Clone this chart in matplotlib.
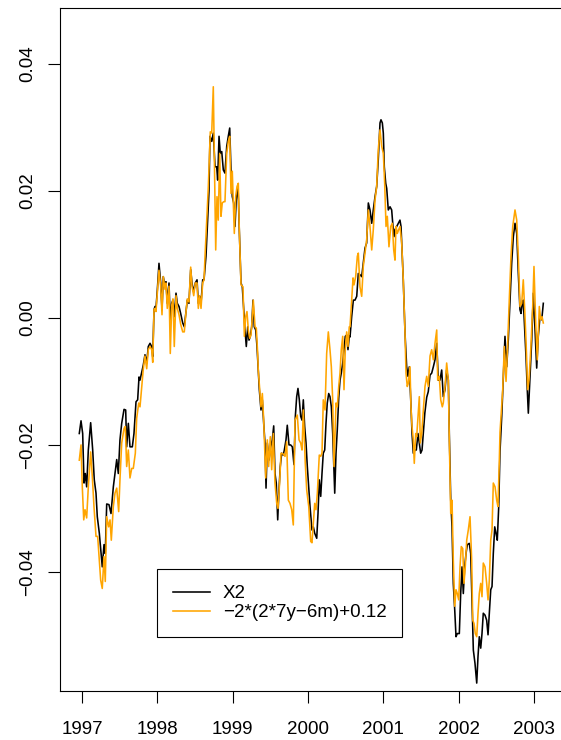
import matplotlib
matplotlib.use("Agg")
import matplotlib.pyplot as plt

# X2 の系列（年, 値）
x2_years = [
    1996.964, 1996.987, 1997.009, 1997.027, 1997.044, 1997.062, 1997.084, 1997.115,
    1997.142, 1997.163, 1997.186, 1997.203, 1997.230, 1997.269, 1997.292, 1997.309,
    1997.328, 1997.358, 1997.385, 1997.416, 1997.438, 1997.461, 1997.482, 1997.504,
    1997.527, 1997.558, 1997.580, 1997.593, 1997.615, 1997.637, 1997.668, 1997.690,
    1997.717, 1997.739, 1997.757, 1997.770, 1997.814, 1997.836, 1997.859, 1997.880,
    1997.903, 1997.925, 1997.939, 1997.956, 1997.969, 1997.982, 1998.000, 1998.022,
    1998.045, 1998.062, 1998.079, 1998.102, 1998.115, 1998.132, 1998.155, 1998.172,
    1998.191, 1998.208, 1998.225, 1998.248, 1998.265, 1998.288, 1998.310, 1998.337,
    1998.358, 1998.381, 1998.398, 1998.420, 1998.443, 1998.460, 1998.483, 1998.504,
    1998.527, 1998.544, 1998.562, 1998.580, 1998.602, 1998.620, 1998.646, 1998.667,
    1998.686, 1998.699, 1998.722, 1998.743, 1998.766, 1998.788, 1998.801, 1998.819,
    1998.836, 1998.855, 1998.876, 1998.898, 1998.921, 1998.942, 1998.961, 1998.978,
    1998.995, 1999.014, 1999.031, 1999.048, 1999.071, 1999.088, 1999.111, 1999.128,
    1999.147, 1999.164, 1999.181, 1999.200, 1999.217, 1999.234, 1999.253, 1999.270,
    1999.287, 1999.306, 1999.323, 1999.340, 1999.354, 1999.376, 1999.394, 1999.412,
    1999.429, 1999.443, 1999.460, 1999.482, 1999.505, 1999.526, 1999.545, 1999.562,
    1999.579, 1999.598, 1999.615, 1999.632, 1999.651, 1999.672, 1999.686, 1999.708,
    1999.725, 1999.748, 1999.770, 1999.792, 1999.814, 1999.832, 1999.850, 1999.867,
    1999.885, 1999.903, 1999.921, 1999.938, 1999.956, 1999.974, 1999.991, 2000.010,
    2000.027, 2000.053, 2000.071, 2000.089, 2000.116, 2000.133, 2000.150, 2000.169,
    2000.186, 2000.203, 2000.222, 2000.239, 2000.256, 2000.275, 2000.292, 2000.310,
    2000.328, 2000.345, 2000.355, 2000.372, 2000.389, 2000.408, 2000.425, 2000.442,
    2000.461, 2000.478, 2000.495, 2000.514, 2000.531, 2000.548, 2000.558, 2000.580,
    2000.602, 2000.624, 2000.647, 2000.668, 2000.690, 2000.713, 2000.734, 2000.757,
    2000.779, 2000.801, 2000.823, 2000.846, 2000.867, 2000.890, 2000.912, 2000.933,
    2000.956, 2000.969, 2000.987, 2001.000, 2001.013, 2001.032, 2001.045, 2001.066,
    2001.089, 2001.111, 2001.125, 2001.142, 2001.155, 2001.178, 2001.199, 2001.221,
    2001.235, 2001.252, 2001.265, 2001.288, 2001.310, 2001.328, 2001.345, 2001.364,
    2001.381, 2001.398, 2001.421, 2001.438, 2001.460, 2001.478, 2001.496, 2001.514,
    2001.531, 2001.551, 2001.576, 2001.597, 2001.620, 2001.642, 2001.664, 2001.686,
    2001.709, 2001.730, 2001.752, 2001.775, 2001.796, 2001.819, 2001.841, 2001.863,
    2001.876, 2001.895, 2001.912, 2001.929, 2001.948, 2001.965, 2001.982, 2002.009,
    2002.027, 2002.045, 2002.062, 2002.080, 2002.098, 2002.115, 2002.141, 2002.160,
    2002.177, 2002.195, 2002.217, 2002.240, 2002.257, 2002.274, 2002.293, 2002.310,
    2002.327, 2002.350, 2002.372, 2002.390, 2002.407, 2002.426, 2002.443, 2002.460,
    2002.479, 2002.496, 2002.513, 2002.532, 2002.549, 2002.572, 2002.593, 2002.615,
    2002.638, 2002.659, 2002.682, 2002.704, 2002.726, 2002.748, 2002.771, 2002.792,
    2002.814, 2002.828, 2002.845, 2002.858, 2002.872, 2002.894, 2002.911, 2002.925,
    2002.947, 2002.970, 2002.991, 2003.014, 2003.036, 2003.057, 2003.080, 2003.103,
    2003.124,
]
x2_values = [
    -0.0182, -0.0162, -0.0182, -0.0260, -0.0245, -0.0266, -0.0208, -0.0165,
    -0.0208, -0.0255, -0.0276, -0.0313, -0.0339, -0.0392, -0.0357, -0.0371,
    -0.0293, -0.0294, -0.0308, -0.0266, -0.0245, -0.0223, -0.0245, -0.0192,
    -0.0166, -0.0144, -0.0145, -0.0203, -0.0166, -0.0203, -0.0203, -0.0182,
    -0.0132, -0.0129, -0.0093, -0.0098, -0.0074, -0.0058, -0.0071, -0.0045,
    -0.0040, -0.0045, -0.0061, 0.0013, 0.0018, 0.0015, 0.0044, 0.0086,
    0.0055, 0.0013, 0.0065, 0.0049, 0.0057, 0.0023, 0.0055, -0.0008,
    0.0023, 0.0028, 0.0002, 0.0039, 0.0023, 0.0018, 0.0007, -0.0008,
    -0.0014, 0.0010, 0.0028, 0.0023, 0.0076, 0.0055, 0.0041, 0.0055,
    0.0060, 0.0023, 0.0034, 0.0023, 0.0060, 0.0060, 0.0097, 0.0150,
    0.0200, 0.0286, 0.0278, 0.0291, 0.0238, 0.0238, 0.0217, 0.0286,
    0.0259, 0.0262, 0.0233, 0.0228, 0.0270, 0.0286, 0.0299, 0.0233,
    0.0191, 0.0181, 0.0144, 0.0186, 0.0209, 0.0139, 0.0055, 0.0049,
    0.0013, -0.0019, -0.0045, -0.0014, -0.0035, -0.0029, -0.0014, 0.0028,
    -0.0014, -0.0019, -0.0045, -0.0082, -0.0113, -0.0145, -0.0129, -0.0166,
    -0.0197, -0.0268, -0.0197, -0.0224, -0.0203, -0.0192, -0.0170, -0.0245,
    -0.0260, -0.0318, -0.0271, -0.0234, -0.0213, -0.0216, -0.0208, -0.0192,
    -0.0169, -0.0200, -0.0200, -0.0203, -0.0231, -0.0155, -0.0124, -0.0111,
    -0.0129, -0.0155, -0.0161, -0.0129, -0.0171, -0.0197, -0.0234, -0.0266,
    -0.0297, -0.0334, -0.0329, -0.0339, -0.0347, -0.0308, -0.0255, -0.0281,
    -0.0245, -0.0213, -0.0208, -0.0166, -0.0134, -0.0119, -0.0124, -0.0140,
    -0.0182, -0.0239, -0.0276, -0.0213, -0.0176, -0.0126, -0.0098, -0.0087,
    -0.0071, -0.0050, -0.0029, -0.0027, -0.0050, -0.0029, -0.0030, 0.0002,
    0.0028, 0.0028, 0.0034, 0.0070, 0.0068, 0.0065, 0.0086, 0.0110,
    0.0118, 0.0181, 0.0170, 0.0149, 0.0170, 0.0191, 0.0207, 0.0249,
    0.0307, 0.0312, 0.0307, 0.0291, 0.0238, 0.0212, 0.0204, 0.0170,
    0.0175, 0.0170, 0.0149, 0.0128, 0.0139, 0.0144, 0.0149, 0.0154,
    0.0144, 0.0097, 0.0060, -0.0024, -0.0077, -0.0092, -0.0077, -0.0129,
    -0.0182, -0.0213, -0.0208, -0.0208, -0.0182, -0.0197, -0.0213, -0.0208,
    -0.0182, -0.0150, -0.0125, -0.0116, -0.0090, -0.0087, -0.0077, -0.0066,
    -0.0040, -0.0098, -0.0098, -0.0082, -0.0124, -0.0113, -0.0082, -0.0098,
    -0.0182, -0.0287, -0.0329, -0.0418, -0.0460, -0.0502, -0.0497, -0.0497,
    -0.0434, -0.0392, -0.0434, -0.0392, -0.0371, -0.0357, -0.0355, -0.0371,
    -0.0444, -0.0523, -0.0544, -0.0575, -0.0533, -0.0502, -0.0520, -0.0497,
    -0.0465, -0.0468, -0.0476, -0.0499, -0.0465, -0.0428, -0.0423, -0.0371,
    -0.0329, -0.0339, -0.0350, -0.0297, -0.0210, -0.0155, -0.0092, -0.0029,
    -0.0077, -0.0035, 0.0028, 0.0086, 0.0128, 0.0149, 0.0133, 0.0070,
    0.0013, 0.0007, 0.0023, 0.0028, -0.0008, -0.0061, -0.0113, -0.0150,
    -0.0092, -0.0035, 0.0039, -0.0019, -0.0079, -0.0029, 0.0002, -0.0003,
    0.0023,
]

# -2*(2*7y-6m)+0.12 の系列（年, 値）
fit_years = [
    1996.964, 1996.987, 1997.004, 1997.023, 1997.040, 1997.062, 1997.084, 1997.115,
    1997.137, 1997.159, 1997.186, 1997.208, 1997.230, 1997.248, 1997.269, 1997.292,
    1997.309, 1997.328, 1997.354, 1997.372, 1997.389, 1997.416, 1997.438, 1997.461,
    1997.487, 1997.504, 1997.527, 1997.558, 1997.575, 1997.593, 1997.615, 1997.637,
    1997.660, 1997.681, 1997.708, 1997.726, 1997.753, 1997.770, 1997.814, 1997.836,
    1997.859, 1997.880, 1997.903, 1997.925, 1997.939, 1997.956, 1997.969, 1997.982,
    1998.000, 1998.022, 1998.045, 1998.062, 1998.079, 1998.102, 1998.115, 1998.132,
    1998.155, 1998.172, 1998.191, 1998.208, 1998.225, 1998.248, 1998.265, 1998.288,
    1998.310, 1998.337, 1998.358, 1998.381, 1998.398, 1998.420, 1998.443, 1998.460,
    1998.483, 1998.504, 1998.527, 1998.544, 1998.562, 1998.580, 1998.602, 1998.620,
    1998.633, 1998.677, 1998.703, 1998.722, 1998.743, 1998.756, 1998.775, 1998.792,
    1998.809, 1998.828, 1998.845, 1998.862, 1998.881, 1998.898, 1998.921, 1998.942,
    1998.961, 1998.978, 1998.995, 1999.014, 1999.022, 1999.040, 1999.058, 1999.075,
    1999.088, 1999.111, 1999.137, 1999.155, 1999.173, 1999.190, 1999.208, 1999.226,
    1999.243, 1999.261, 1999.274, 1999.297, 1999.314, 1999.332, 1999.340, 1999.363,
    1999.376, 1999.394, 1999.412, 1999.439, 1999.460, 1999.478, 1999.500, 1999.518,
    1999.540, 1999.562, 1999.585, 1999.602, 1999.624, 1999.642, 1999.668, 1999.695,
    1999.717, 1999.739, 1999.761, 1999.784, 1999.805, 1999.828, 1999.858, 1999.881,
    1999.903, 1999.921, 1999.938, 1999.964, 1999.983, 2000.010, 2000.036, 2000.053,
    2000.071, 2000.089, 2000.106, 2000.124, 2000.150, 2000.169, 2000.186, 2000.203,
    2000.226, 2000.248, 2000.270, 2000.292, 2000.310, 2000.328, 2000.345, 2000.372,
    2000.389, 2000.408, 2000.425, 2000.442, 2000.461, 2000.478, 2000.495, 2000.514,
    2000.531, 2000.548, 2000.558, 2000.580, 2000.598, 2000.611, 2000.633, 2000.655,
    2000.668, 2000.690, 2000.713, 2000.734, 2000.757, 2000.779, 2000.801, 2000.823,
    2000.846, 2000.867, 2000.890, 2000.912, 2000.933, 2000.956, 2000.979, 2001.000,
    2001.018, 2001.036, 2001.053, 2001.075, 2001.098, 2001.119, 2001.138, 2001.155,
    2001.168, 2001.186, 2001.204, 2001.221, 2001.244, 2001.265, 2001.288, 2001.301,
    2001.318, 2001.332, 2001.354, 2001.367, 2001.381, 2001.398, 2001.411, 2001.430,
    2001.443, 2001.464, 2001.478, 2001.491, 2001.510, 2001.531, 2001.553, 2001.576,
    2001.597, 2001.620, 2001.642, 2001.664, 2001.686, 2001.709, 2001.722, 2001.743,
    2001.762, 2001.783, 2001.796, 2001.819, 2001.841, 2001.863, 2001.876, 2001.895,
    2001.912, 2001.929, 2001.948, 2001.965, 2001.982, 2002.001, 2002.018, 2002.035,
    2002.054, 2002.071, 2002.088, 2002.107, 2002.128, 2002.151, 2002.173, 2002.187,
    2002.204, 2002.221, 2002.240, 2002.257, 2002.274, 2002.293, 2002.310, 2002.327,
    2002.350, 2002.372, 2002.390, 2002.407, 2002.426, 2002.443, 2002.460, 2002.483,
    2002.505, 2002.522, 2002.540, 2002.549, 2002.585, 2002.606, 2002.629, 2002.651,
    2002.672, 2002.695, 2002.718, 2002.748, 2002.771, 2002.792, 2002.814, 2002.837,
    2002.858, 2002.877, 2002.894, 2002.917, 2002.934, 2002.957, 2002.983, 2003.000,
    2003.023, 2003.044, 2003.071, 2003.089, 2003.107, 2003.124,
]
fit_values = [
    -0.0224, -0.0200, -0.0266, -0.0318, -0.0302, -0.0315, -0.0266, -0.0211,
    -0.0250, -0.0297, -0.0344, -0.0344, -0.0381, -0.0413, -0.0426, -0.0376,
    -0.0415, -0.0313, -0.0329, -0.0318, -0.0350, -0.0297, -0.0276, -0.0268,
    -0.0305, -0.0255, -0.0197, -0.0174, -0.0171, -0.0234, -0.0208, -0.0252,
    -0.0237, -0.0237, -0.0213, -0.0158, -0.0134, -0.0140, -0.0080, -0.0060,
    -0.0080, -0.0050, -0.0045, -0.0050, -0.0070, 0.0013, 0.0015, 0.0010,
    0.0040, 0.0075, 0.0050, 0.0005, 0.0065, 0.0045, 0.0055, 0.0015,
    0.0050, -0.0056, 0.0020, 0.0030, -0.0045, 0.0035, 0.0015, 0.0005,
    -0.0010, -0.0022, -0.0022, 0.0010, 0.0030, 0.0025, 0.0080, 0.0050,
    0.0035, 0.0055, 0.0055, 0.0015, 0.0035, 0.0015, 0.0055, 0.0060,
    0.0097, 0.0207, 0.0293, 0.0291, 0.0364, 0.0259, 0.0107, 0.0191,
    0.0154, 0.0259, 0.0160, 0.0181, 0.0183, 0.0183, 0.0259, 0.0278,
    0.0286, 0.0196, 0.0231, 0.0165, 0.0133, 0.0191, 0.0207, 0.0212,
    0.0139, 0.0052, 0.0049, -0.0029, 0.0002, 0.0010, -0.0019, -0.0032,
    -0.0027, 0.0002, 0.0028, -0.0014, -0.0016, -0.0056, -0.0082, -0.0119,
    -0.0140, -0.0119, -0.0161, -0.0252, -0.0192, -0.0234, -0.0187, -0.0239,
    -0.0182, -0.0260, -0.0292, -0.0300, -0.0258, -0.0213, -0.0214, -0.0218,
    -0.0195, -0.0287, -0.0292, -0.0302, -0.0326, -0.0161, -0.0153, -0.0192,
    -0.0197, -0.0208, -0.0145, -0.0229, -0.0271, -0.0297, -0.0352, -0.0354,
    -0.0323, -0.0292, -0.0302, -0.0276, -0.0216, -0.0218, -0.0213, -0.0129,
    -0.0145, -0.0056, -0.0022, -0.0050, -0.0077, -0.0129, -0.0234, -0.0134,
    -0.0140, -0.0108, -0.0087, -0.0050, -0.0029, -0.0113, -0.0050, -0.0022,
    -0.0045, -0.0014, -0.0014, 0.0028, 0.0063, 0.0052, 0.0065, 0.0097,
    0.0102, 0.0049, 0.0034, 0.0081, 0.0102, 0.0123, 0.0170, 0.0144,
    0.0107, 0.0139, 0.0186, 0.0207, 0.0265, 0.0296, 0.0270, 0.0259,
    0.0212, 0.0144, 0.0160, 0.0112, 0.0144, 0.0149, 0.0107, 0.0091,
    0.0144, 0.0133, 0.0139, 0.0144, 0.0118, 0.0060, -0.0024, -0.0087,
    -0.0108, -0.0103, -0.0077, -0.0140, -0.0171, -0.0192, -0.0229, -0.0182,
    -0.0187, -0.0150, -0.0124, -0.0197, -0.0182, -0.0145, -0.0108, -0.0092,
    -0.0108, -0.0060, -0.0050, -0.0066, -0.0040, -0.0019, -0.0098, -0.0092,
    -0.0129, -0.0140, -0.0134, -0.0108, -0.0071, -0.0098, -0.0192, -0.0308,
    -0.0287, -0.0381, -0.0454, -0.0428, -0.0434, -0.0444, -0.0392, -0.0360,
    -0.0363, -0.0418, -0.0392, -0.0350, -0.0334, -0.0313, -0.0381, -0.0476,
    -0.0481, -0.0497, -0.0502, -0.0465, -0.0434, -0.0418, -0.0439, -0.0386,
    -0.0392, -0.0418, -0.0444, -0.0413, -0.0350, -0.0334, -0.0260, -0.0266,
    -0.0287, -0.0297, -0.0224, -0.0180, -0.0113, -0.0045, -0.0100, -0.0040,
    0.0028, 0.0097, 0.0144, 0.0170, 0.0154, 0.0097, 0.0018, 0.0023,
    0.0060, 0.0013, -0.0035, -0.0113, -0.0098, -0.0050, 0.0018, 0.0081,
    -0.0008, -0.0066, 0.0018, -0.0003, 0.0002, -0.0008,
]

x_ticks = [1997, 1998, 1999, 2000, 2001, 2002, 2003]
y_ticks = [0.04, 0.02, 0.00, -0.02, -0.04]
y_labels = ["0.04", "0.02", "0.00", "\u22120.02", "\u22120.04"]
legend_labels = ["X2", "\u22122*(2*7y\u22126m)+0.12"]

plt.rcParams["font.family"] = ["Liberation Sans", "DejaVu Sans"]

fig = plt.figure(figsize=(5.61, 7.40), dpi=100)
ax = fig.add_axes([60 / 561, 1 - 690.7 / 740, (562 - 60) / 561, (690.7 - 8) / 740])

ax.plot(x2_years, x2_values, color="black", linewidth=1.15, label=legend_labels[0])
ax.plot(fit_years, fit_values, color="orange", linewidth=1.15, label=legend_labels[1])

ax.set_xlim(1996.708, 2003.372)
ax.set_ylim(-0.0587, 0.0488)

ax.set_xticks(x_ticks)
ax.set_xticklabels([str(y) for y in x_ticks])
ax.set_yticks(y_ticks)
ax.set_yticklabels(y_labels, rotation=90, va="center")

ax.tick_params(axis="both", direction="out", length=8.5, width=0.8,
               labelsize=13.5, colors="black")
ax.tick_params(axis="x", pad=13)
ax.tick_params(axis="y", pad=8.5)

for s in ax.spines.values():
    s.set_linewidth(0.8)
    s.set_color("black")

# 凡例
leg = ax.legend(loc="upper left", bbox_to_anchor=(157 / 561, 1 - 569.3 / 740),
                bbox_transform=fig.transFigure, borderaxespad=0,
                fontsize=13.5, frameon=True, fancybox=False, framealpha=1,
                edgecolor="black", handlelength=1.97, handletextpad=0.68,
                borderpad=0.85, labelspacing=0.1)
leg.get_frame().set_linewidth(0.8)

fig.savefig("out.png", dpi=100)
